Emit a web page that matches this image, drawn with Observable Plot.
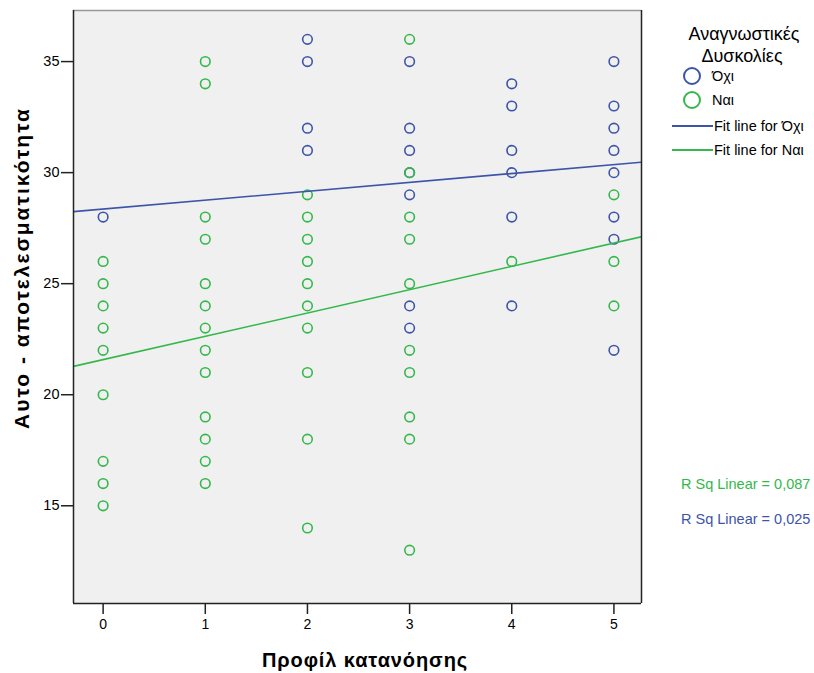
<!DOCTYPE html>
<html>
<head>
<meta charset="utf-8">
<script src="https://cdn.jsdelivr.net/npm/d3@7"></script>
<script src="https://cdn.jsdelivr.net/npm/@observablehq/plot@0.6"></script>
<style>
  body { margin: 0; background: #fff; font-family: "Liberation Sans", Arial, sans-serif; }
  #wrap { position: relative; width: 814px; height: 673px; }
  .lg { position: absolute; font-family: "Liberation Sans", Arial, sans-serif; color: #000; white-space: nowrap; line-height: 1; }
</style>
</head>
<body>
<div id="wrap"></div>
<script>
// Group names
const groups = ["Όχι", "Ναι"];
const groupColors = ["#3d55a8", "#34b84c"];
const legendTitle = ["Αναγνωστικές", "Δυσκολίες"];

// Όχι (no reading difficulties)
const noProfile = [0, 2,2,2,2, 3,3,3,3,3,3,3, 4,4,4,4,4,4, 5,5,5,5,5,5,5,5];
const noScore   = [28, 36,35,32,31, 35,32,31,30,29,24,23, 34,33,31,30,28,24, 35,33,32,31,30,28,27,22];

// Ναι (reading difficulties)
const yesProfile = [0,0,0,0,0,0,0,0,0, 1,1,1,1,1,1,1,1,1,1,1,1,1, 2,2,2,2,2,2,2,2,2,2, 3,3,3,3,3,3,3,3,3,3, 4, 5,5,5];
const yesScore   = [26,25,24,23,22,20,17,16,15, 35,34,28,27,25,24,23,22,21,19,18,17,16, 29,28,27,26,25,24,23,21,18,14, 36,30,28,27,25,22,21,19,18,13, 26, 29,26,24];

// Fit lines (intercept, slope) and R²
const fitIntercept = [28.36, 21.58];
const fitSlope = [0.40, 1.05];
const rSquared = ["0,025", "0,087"];

const xTicks = [0, 1, 2, 3, 4, 5];
const yTicks = [15, 20, 25, 30, 35];
const xDomain = [-0.29, 5.27];
const yDomain = [10.6, 37.3];

const points = [
  ...noProfile.map((p, i) => ({profile: p, score: noScore[i], group: groups[0]})),
  ...yesProfile.map((p, i) => ({profile: p, score: yesScore[i], group: groups[1]}))
];
const fits = groups.flatMap((g, k) => xDomain.map(x => ({profile: x, score: fitIntercept[k] + fitSlope[k] * x, group: g})));

const chart = Plot.plot({
  width: 814,
  height: 673,
  marginLeft: 73,
  marginRight: 173,
  marginTop: 10,
  marginBottom: 70,
  style: {fontFamily: "'Liberation Sans', Arial, sans-serif", fontSize: "14px", background: "#fff", color: "#000"},
  x: {domain: xDomain, ticks: xTicks, label: null},
  y: {domain: yDomain, ticks: yTicks, label: null},
  color: {domain: groups, range: groupColors},
  marks: [
    Plot.frame({fill: "#f0f0f0", stroke: null}),
    Plot.axisX({ticks: xTicks, tickSize: 11, tickPadding: 5, tickFormat: d => String(d), fontSize: 14, stroke: "#222", strokeWidth: 1.5}),
    Plot.axisY({ticks: yTicks, tickSize: 12, tickPadding: 2, tickFormat: d => String(d), fontSize: 14.5, stroke: "#222", strokeWidth: 1.5}),
    Plot.dot(points.filter(d => d.group === groups[0]), {x: "profile", y: "score", stroke: "group", fill: "none", r: 4.8, strokeWidth: 1.6, symbol: "circle"}),
    Plot.dot(points.filter(d => d.group === groups[1]), {x: "profile", y: "score", stroke: "group", fill: "none", r: 4.8, strokeWidth: 1.6, symbol: "circle"}),
    Plot.line(fits, {x: "profile", y: "score", z: "group", stroke: "group", strokeWidth: 1.6, clip: true}),
    Plot.ruleY([yDomain[1]], {stroke: "#999", strokeWidth: 1.5}),
    Plot.ruleX([xDomain[0], xDomain[1]], {stroke: "#222", strokeWidth: 1.5}),
    Plot.ruleY([yDomain[0]], {stroke: "#222", strokeWidth: 1.5})
  ]
});

const wrap = document.getElementById("wrap");
wrap.appendChild(chart);

// place text: left (or center x) and vertical center y
function addText(txt, x, cy, opts = {}) {
  const d = document.createElement("div");
  d.className = "lg";
  d.textContent = txt;
  d.style.left = x + "px";
  d.style.top = cy + "px";
  d.style.fontSize = (opts.size || 14) + "px";
  if (opts.color) d.style.color = opts.color;
  if (opts.bold) d.style.fontWeight = "bold";
  if (opts.spacing) d.style.letterSpacing = opts.spacing + "px";
  if (opts.rotate) d.style.transform = "translate(-50%,-50%) rotate(-90deg)";
  else if (opts.center) d.style.transform = "translate(-50%,-50%)";
  else d.style.transform = "translateY(-50%)";
  wrap.appendChild(d);
  return d;
}

// Axis titles
addText("Προφίλ κατανόησης", 365, 660, {size: 20, bold: true, center: true, spacing: 0.9});
addText("Αυτο - αποτελεσματικότητα", 21, 268, {size: 21, bold: true, rotate: true, spacing: 2});

// Legend
addText(legendTitle[0], 744, 34, {size: 18, center: true});
addText(legendTitle[1], 742, 56, {size: 18, center: true});
groups.forEach((g, k) => {
  const cy = 76 + k * 23.5;
  const c = document.createElement("div");
  c.style.position = "absolute";
  c.style.left = (692 - 9) + "px";
  c.style.top = (cy - 9) + "px";
  c.style.width = "18px";
  c.style.height = "18px";
  c.style.border = "2px solid " + groupColors[k];
  c.style.borderRadius = "50%";
  c.style.boxSizing = "border-box";
  wrap.appendChild(c);
  addText(g, 712, cy, {size: 14.5});
});
groups.forEach((g, k) => {
  const cy = 126 + k * 24;
  const l = document.createElement("div");
  l.style.position = "absolute";
  l.style.left = "672px";
  l.style.top = (cy - 1) + "px";
  l.style.width = "41px";
  l.style.height = "2px";
  l.style.background = groupColors[k];
  wrap.appendChild(l);
  addText("Fit line for " + g, 714, cy, {size: 14.5});
});

// R² labels
addText("R Sq Linear = " + rSquared[1], 681, 484, {size: 14.5, color: groupColors[1]});
addText("R Sq Linear = " + rSquared[0], 681, 519, {size: 14.5, color: groupColors[0]});
</script>
</body>
</html>
